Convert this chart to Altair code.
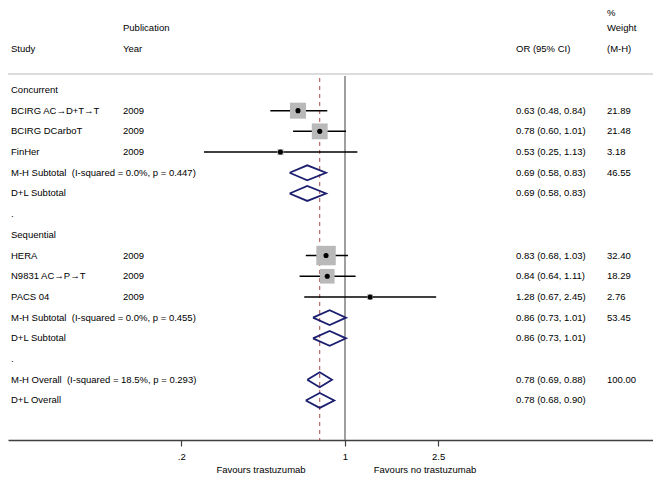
import altair as alt
import pandas as pd

# ---- data ----
labels = ["Concurrent",
          "BCIRG AC\u2192D+T\u2192T", "BCIRG DCarboT", "FinHer",
          "M-H Subtotal\u00a0 (I-squared = 0.0%, p = 0.447)", "D+L Subtotal",
          ".",
          "Sequential",
          "HERA", "N9831 AC\u2192P\u2192T", "PACS 04",
          "M-H Subtotal\u00a0 (I-squared = 0.0%, p = 0.455)", "D+L Subtotal",
          ".",
          "M-H Overall\u00a0 (I-squared = 18.5%, p = 0.293)", "D+L Overall"]
kinds = ["head", "study", "study", "study", "pool", "pool", "blank",
         "head", "study", "study", "study", "pool", "pool", "blank",
         "pool", "pool"]
years = ["", "2009", "2009", "2009", "", "", "", "", "2009", "2009", "2009", "", "", "", "", ""]
ors = [None, 0.63, 0.78, 0.53, 0.69, 0.69, None, None, 0.83, 0.84, 1.28, 0.86, 0.86, None, 0.78, 0.78]
los = [None, 0.48, 0.60, 0.25, 0.58, 0.58, None, None, 0.68, 0.64, 0.67, 0.73, 0.73, None, 0.69, 0.68]
his = [None, 0.84, 1.01, 1.13, 0.83, 0.83, None, None, 1.03, 1.11, 2.45, 1.01, 1.01, None, 0.88, 0.90]
weights = ["", "21.89", "21.48", "3.18", "46.55", "", "", "", "32.40", "18.29", "2.76", "53.45", "", "", "100.00", ""]
or_text = ["", "0.63 (0.48, 0.84)", "0.78 (0.60, 1.01)", "0.53 (0.25, 1.13)",
           "0.69 (0.58, 0.83)", "0.69 (0.58, 0.83)", "", "",
           "0.83 (0.68, 1.03)", "0.84 (0.64, 1.11)", "1.28 (0.67, 2.45)",
           "0.86 (0.73, 1.01)", "0.86 (0.73, 1.01)", "",
           "0.78 (0.69, 0.88)", "0.78 (0.68, 0.90)"]
tick_values = [0.2, 1, 2.5]
overall_or = 0.78
null_value = 1

# header texts: (column, row, text)
hdr_cols = ["study", "year", "year", "or", "wt", "wt", "wt"]
hdr_rows = [-2.0, -3.0, -2.0, -2.0, -3.7, -3.0, -2.0]
hdr_text = ["Study", "Publication", "Year", "OR (95% CI)", "%", "Weight", "(M-H)"]
favour_text = ["Favours trastuzumab", "Favours no trastuzumab"]

rows = pd.DataFrame({
    "k": list(range(len(labels))),
    "label": labels, "kind": kinds, "year": years,
    "or": ors, "lo": los, "hi": his,
    "wtxt": weights, "ortxt": or_text,
})
rows["w"] = pd.to_numeric(rows["wtxt"], errors="coerce")
studies = rows[rows["kind"] == "study"].copy()
pools = rows[rows["kind"] == "pool"].copy()

# diamond polygons for pooled estimates
HALF = 0.36
dpts = []
for _, r in pools.iterrows():
    pts = [(r["lo"], r["k"]), (r["or"], r["k"] - HALF), (r["hi"], r["k"]),
           (r["or"], r["k"] + HALF), (r["lo"], r["k"])]
    for i, (xv, yv) in enumerate(pts):
        dpts.append({"id": int(r["k"]), "o": i, "x": xv, "y": yv})
diam = pd.DataFrame(dpts)

header = pd.DataFrame({"col": hdr_cols, "k": hdr_rows, "txt": hdr_text})

FONT = "Liberation Sans"
FS = 9.5
TXT = "#000000"
W, H = 645, 432
COLX = {"study": 3, "year": 115, "or": 508, "wt": 599}

xs = alt.Scale(type="log", domain=[0.0364, 20.66], nice=False, zero=False)
ys = alt.Scale(domain=[-3.96, 16.91], reverse=True, nice=False, zero=False)
xaxis = alt.Axis(values=tick_values, title="", grid=False,
                 labelExpr="datum.value == 0.2 ? '.2' : (datum.value == 1 ? '1' : '2.5')")
Y = lambda f: alt.Y(f, scale=ys, axis=None)

# header separator line
hline = alt.Chart(pd.DataFrame({"k": [-0.77]})).mark_rule(color="#dcdcdc", strokeWidth=2).encode(
    x=alt.value(0), x2=alt.value(W), y=Y("k:Q"))

# null line
nline = alt.Chart(pd.DataFrame({"v": [null_value], "a": [-0.68], "b": [16.91]})).mark_rule(
    color="#7f7f7f", strokeWidth=1.5).encode(
    x=alt.X("v:Q", scale=xs, axis=xaxis), y=Y("a:Q"), y2="b:Q")

# overall dashed line
oline = alt.Chart(pd.DataFrame({"v": [overall_or], "a": [-0.58], "b": [16.91]})).mark_rule(
    color="#a94a4a", strokeWidth=1, strokeDash=[4, 4]).encode(
    x=alt.X("v:Q", scale=xs, axis=xaxis), y=Y("a:Q"), y2="b:Q")

ci = alt.Chart(studies).mark_rule(color="black", strokeWidth=1.5).encode(
    x=alt.X("lo:Q", scale=xs, axis=xaxis), x2="hi:Q", y=Y("k:Q"))

sq = alt.Chart(studies).mark_square(filled=True, color="#b9b9b9", opacity=1).encode(
    x=alt.X("or:Q", scale=xs, axis=xaxis), y=Y("k:Q"),
    size=alt.Size("w:Q", scale=alt.Scale(type="linear", domain=[0, 100], range=[0, 1170], zero=True),
                  legend=None))

dot = alt.Chart(studies).mark_circle(color="black", size=26, opacity=1).encode(
    x=alt.X("or:Q", scale=xs, axis=xaxis), y=Y("k:Q"))

dia = alt.Chart(diam).mark_line(color="#1b1f6e", strokeWidth=1.8).encode(
    x=alt.X("x:Q", scale=xs, axis=xaxis), y=Y("y:Q"),
    order="o:Q", detail="id:N")

txt_kw = dict(font=FONT, fontSize=FS, color=TXT, align="left", baseline="middle")
base = alt.Chart(rows)
lab = base.mark_text(**txt_kw).encode(x=alt.value(COLX["study"]), y=Y("k:Q"), text="label:N")
yr = base.mark_text(**txt_kw).encode(x=alt.value(COLX["year"]), y=Y("k:Q"), text="year:N")
ort = base.mark_text(**txt_kw).encode(x=alt.value(COLX["or"]), y=Y("k:Q"), text="ortxt:N")
wt = base.mark_text(**txt_kw).encode(x=alt.value(COLX["wt"]), y=Y("k:Q"), text="wtxt:N")

hdr_layers = [
    alt.Chart(header).transform_filter(alt.datum.col == c).mark_text(**txt_kw).encode(
        x=alt.value(px), y=Y("k:Q"), text="txt:N")
    for c, px in COLX.items()
]

fav_df = pd.DataFrame({"txt": favour_text, "k": [18.36, 18.36]})
fav_kw = dict(font=FONT, fontSize=FS, color=TXT, align="center", baseline="middle")
fav1 = alt.Chart(fav_df).transform_filter(alt.datum.txt == favour_text[0]).mark_text(**fav_kw).encode(
    x=alt.value(253), y=Y("k:Q"), text="txt:N")
fav2 = alt.Chart(fav_df).transform_filter(alt.datum.txt == favour_text[1]).mark_text(**fav_kw).encode(
    x=alt.value(417), y=Y("k:Q"), text="txt:N")

chart = alt.layer(hline, nline, oline, ci, sq, dot, dia, lab, yr, ort, wt, *hdr_layers, fav1, fav2).properties(
    width=W, height=H,
    autosize=alt.AutoSizeParams(type="none"),
    padding={"left": 0, "top": 0, "right": 0, "bottom": 34},
).configure_view(strokeWidth=0).configure_axisX(
    domainColor="#3f3f3f", domainWidth=1.5, tickColor="#3f3f3f", tickWidth=1.2, tickSize=6,
    labelFont=FONT, labelFontSize=FS, labelColor=TXT, labelPadding=5,
)

chart.save("out.html", embed_options={"renderer": "svg", "actions": False})
